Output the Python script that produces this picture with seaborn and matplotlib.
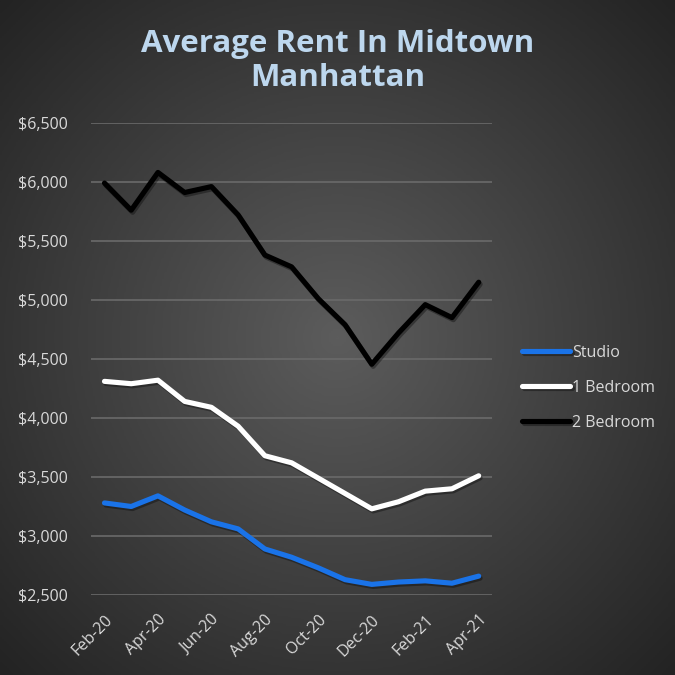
import numpy as np
import pandas as pd
import matplotlib
matplotlib.use("Agg")
import matplotlib.pyplot as plt
import matplotlib.patheffects as pe
from matplotlib.colors import LinearSegmentedColormap
import seaborn as sns

# monthly average rent, Feb-20 .. Apr-21
months = ["Feb-20", "Mar-20", "Apr-20", "May-20", "Jun-20", "Jul-20", "Aug-20",
          "Sep-20", "Oct-20", "Nov-20", "Dec-20", "Jan-21", "Feb-21", "Mar-21", "Apr-21"]
studio = [3280, 3250, 3340, 3220, 3120, 3060, 2890, 2820, 2730, 2630, 2590, 2610, 2620, 2600, 2660]
one_bed = [4310, 4290, 4320, 4140, 4090, 3930, 3680, 3620, 3490, 3360, 3230, 3290, 3380, 3400, 3510]
two_bed = [5990, 5760, 6080, 5910, 5960, 5720, 5380, 5280, 5010, 4790, 4455, 4720, 4960, 4850, 5150]
series_names = ["Studio", "1 Bedroom", "2 Bedroom"]
colors = ["#1a73e8", "#ffffff", "#000000"]

df = pd.DataFrame({
    "month": months * 3,
    "idx": list(range(len(months))) * 3,
    "rent": studio + one_bed + two_bed,
    "type": [n for n in series_names for _ in months],
})

sns.set_style("dark")
plt.rcParams["font.family"] = ["Open Sans", "DejaVu Sans"]

fig = plt.figure(figsize=(6.75, 6.75), dpi=100)

# radial gradient background, lighter in the middle
bg = fig.add_axes([0, 0, 1, 1])
yy, xx = np.mgrid[0:1:300j, 0:1:300j]
r = np.sqrt((xx - 0.5) ** 2 + (yy - 0.5) ** 2) / 0.707
grad = LinearSegmentedColormap.from_list("bg", ["#5c5c5c", "#232323"])
bg.imshow(r, cmap=grad, vmin=0, vmax=1, extent=[0, 1, 0, 1], aspect="auto")
bg.axis("off")

ax = fig.add_axes([0.135, 0.1185, 0.594, 0.6995])
ax.set_facecolor("none")
sns.lineplot(data=df, x="idx", y="rent", hue="type", palette=colors,
             linewidth=3.7, ax=ax, legend=True)
shadow = [pe.SimpleLineShadow(offset=(1, -1.5), alpha=0.35), pe.Normal()]
for line in ax.get_lines():
    line.set_path_effects(shadow)
    line.set_solid_capstyle("round")

ax.set_xlim(-0.5, len(months) - 0.5)
ax.set_ylim(2500, 6500)
ax.set_yticks(range(2500, 6501, 500))
ax.set_yticklabels([f"${v:,}" for v in range(2500, 6501, 500)])
ax.set_xticks(range(0, len(months), 2))
ax.set_xticklabels(months[::2], rotation=45, ha="right", rotation_mode="anchor")
ax.tick_params(colors="#d9d9d9", labelsize=11.5, length=0)
ax.tick_params(axis="x", pad=12)
ax.tick_params(axis="y", pad=17)
ax.set_xlabel("")
ax.set_ylabel("")
ax.grid(axis="y", color="#6a6a6a", linewidth=1.2)
ax.grid(axis="x", visible=False)
for s in ax.spines.values():
    s.set_visible(False)

leg = ax.legend(loc="center left", bbox_to_anchor=(1.04, 0.439), frameon=False,
                fontsize=11.5, handlelength=3.0, handletextpad=0.1, labelspacing=1.2)
for t in leg.get_texts():
    t.set_color("#d9d9d9")

fig.text(0.5, 0.91, "Average Rent In Midtown\nManhattan", ha="center", va="center",
         fontsize=22.5, fontweight="bold", color="#bdd7ee", linespacing=1.19)

fig.savefig("out.png", dpi=100)
